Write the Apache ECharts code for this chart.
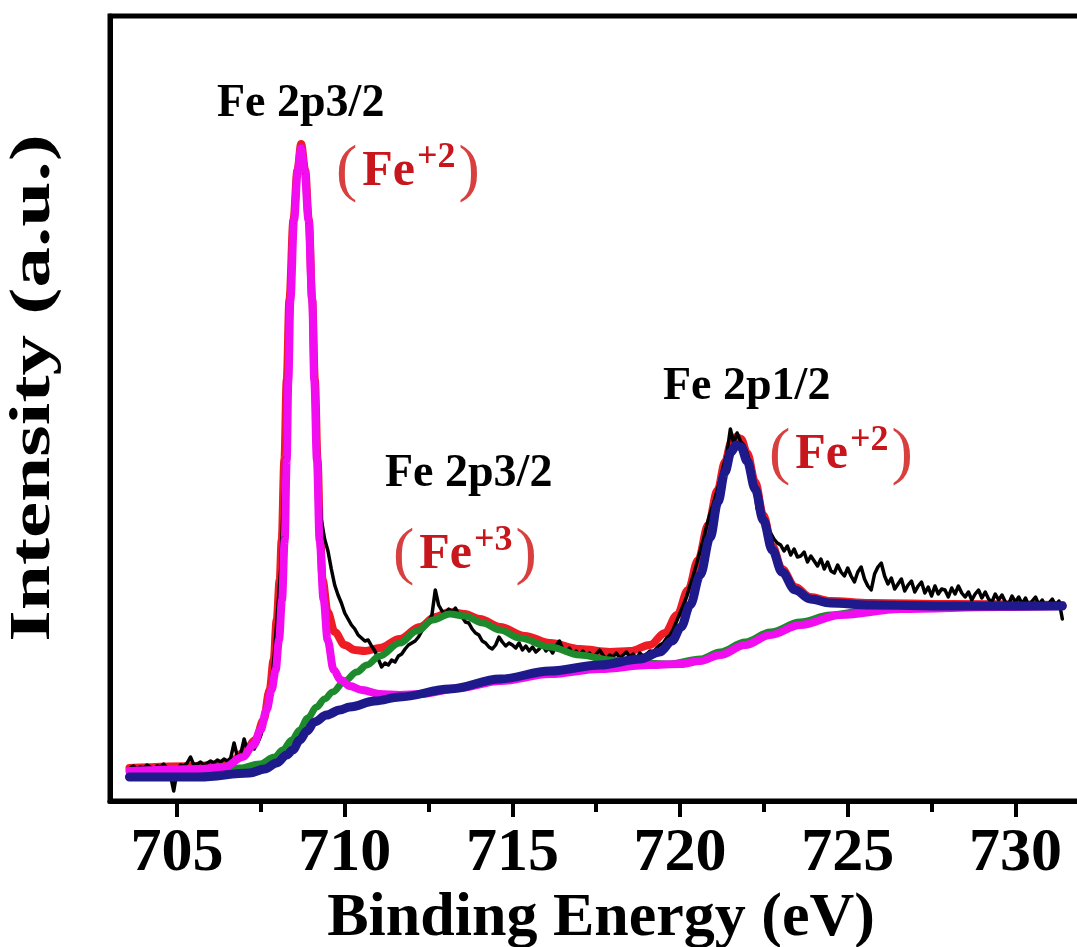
<!DOCTYPE html>
<html>
<head>
<meta charset="utf-8">
<script src="https://cdn.jsdelivr.net/npm/echarts@6/dist/echarts.min.js"></script>
<style>
  html, body { margin: 0; padding: 0; background: #ffffff; }
  #chart { width: 1077px; height: 947px; }
</style>
</head>
<body>
<div id="chart"></div>
<script>
// Fe 2p XPS spectrum with peak fitting (binding energy in eV, intensity in a.u.)

const xTicks = [705, 710, 715, 720, 725, 730];
const xMinorTicks = [707.5, 712.5, 717.5, 722.5, 727.5, 732.5];

// Measured spectrum: regular energy grid, one row per eV
const blackStart = 703.6;
const blackStep = 0.1;
const blackIntensity = [
  33, 35, 32, 34,                                   // 703.6 - 703.9
  33, 36, 34, 31, 35, 34, 37, 33, 26, 10,           // 704
  30, 36, 35, 38, 44, 36, 37, 39, 36, 38,           // 705
  40, 38, 41, 39, 42, 40, 43, 58, 44, 47,           // 706
  62, 50, 54, 52, 58, 66, 79, 96, 113, 146,         // 707
  191, 236, 331, 426, 511, 581, 636, 655, 626, 578, // 708
  511, 426, 335, 282, 262, 250, 232, 216, 206, 198, // 709
  188, 182, 176, 172, 166, 163, 160, 161, 155, 150, // 710
  142, 134, 138, 136, 141, 139, 145, 147, 152, 156, // 711
  158, 160, 164, 170, 174, 178, 186, 211, 196, 190, // 712
  188, 192, 189, 193, 186, 184, 179, 178, 172, 168, // 713
  166, 160, 158, 154, 152, 156, 164, 159, 155, 158, // 714
  156, 153, 158, 151, 155, 150, 154, 149, 152, 156, // 715
  150, 153, 148, 155, 160, 152, 149, 153, 147, 150, // 716
  146, 150, 145, 148, 143, 147, 151, 146, 142, 146, // 717
  144, 148, 143, 146, 149, 144, 147, 142, 148, 145, // 718
  147, 150, 149, 153, 156, 158, 163, 166, 172, 180, // 719
  188, 196, 205, 216, 226, 238, 250, 262, 276, 288, // 720
  298, 310, 322, 336, 348, 372, 358, 368, 360, 356, // 721
  348, 335, 322, 292, 286, 280, 274, 268, 262, 258, // 722
  256, 250, 255, 246, 252, 244, 245, 249, 239, 245, // 723
  240, 235, 242, 232, 239, 230, 228, 236, 229, 225, // 724
  233, 225, 219, 229, 234, 222, 215, 211, 227, 234, // 725
  238, 225, 217, 223, 212, 217, 222, 210, 216, 220, // 726
  209, 215, 219, 208, 214, 205, 215, 207, 212, 211, // 727
  204, 213, 207, 215, 208, 204, 209, 201, 207, 211, // 728
  203, 209, 202, 199, 207, 201, 206, 199, 197, 205, // 729
  199, 204, 197, 203, 195, 200, 204, 196, 201, 194, // 730
  198, 202, 195, 200, 182                           // 731.0 - 731.4
];

// Fitted envelope (sum of all components + background)
const envelopeFit = [
  [703.58, 33], [705.67, 35], [706.57, 38], [707.01, 49], [707.34, 61],
  [707.58, 81], [707.76, 111], [707.88, 141], [707.97, 181], [708.06, 221],
  [708.12, 261], [708.20, 341], [708.27, 421], [708.35, 501], [708.47, 581],
  [708.59, 631], [708.70, 657], [708.82, 631], [708.93, 581], [709.03, 501],
  [709.11, 421], [709.19, 341], [709.27, 261], [709.34, 221], [709.49, 189],
  [709.70, 169], [710.00, 156], [710.30, 151], [710.60, 150], [711.04, 153],
  [711.64, 162], [712.24, 174], [712.69, 184], [713.13, 189], [713.58, 187],
  [714.03, 182], [714.63, 174], [715.37, 165], [716.12, 158], [717.01, 152],
  [717.91, 149], [718.51, 150], [719.10, 156], [719.55, 168], [719.91, 186],
  [720.24, 211], [720.54, 241], [720.84, 276], [721.12, 311], [721.34, 339],
  [721.52, 358], [721.67, 364], [721.82, 362], [722.00, 348], [722.24, 319],
  [722.48, 286], [722.75, 255], [723.04, 232], [723.43, 214], [723.88, 204],
  [724.48, 200], [725.67, 198], [728.06, 197], [731.40, 196]
];

// Fe2+ 2p3/2 component on background
const fe2p32Fe2 = [
  [703.58, 30], [705.67, 32], [706.42, 34], [706.96, 44], [707.28, 56],
  [707.49, 71], [707.67, 91], [707.82, 111], [707.94, 131], [708.04, 161],
  [708.13, 201], [708.21, 261], [708.27, 341], [708.32, 421], [708.38, 501],
  [708.49, 581], [708.60, 631], [708.70, 653], [708.80, 631], [708.92, 581],
  [709.03, 501], [709.09, 421], [709.17, 341], [709.25, 261], [709.37, 201],
  [709.49, 161], [709.67, 131], [709.88, 121], [710.15, 115], [710.51, 111],
  [711.04, 107], [711.64, 106], [712.24, 107], [713.43, 113], [714.63, 120],
  [716.12, 127], [717.61, 132], [719.10, 136], [720.00, 137], [720.60, 140],
  [721.19, 146], [721.94, 156], [722.69, 166], [723.58, 176], [724.78, 186],
  [726.57, 192], [729.55, 194], [731.40, 195]
];

// Fe3+ 2p3/2 component on background
const fe2p32Fe3 = [
  [703.58, 29], [705.67, 30], [706.87, 33], [707.46, 37], [707.91, 44],
  [708.15, 51], [708.42, 61], [708.66, 71], [708.90, 83], [709.16, 94],
  [709.40, 102], [709.64, 109], [710.00, 120], [710.36, 129], [710.66, 136],
  [711.04, 145], [711.64, 158], [712.15, 170], [712.63, 181], [713.13, 187],
  [713.58, 185], [714.12, 178], [714.63, 171], [715.22, 163], [716.12, 154],
  [717.01, 146], [717.91, 141], [718.81, 138], [719.70, 137], [720.60, 142],
  [721.19, 149], [721.94, 159], [722.69, 169], [723.58, 179], [724.48, 186],
  [725.67, 191], [727.16, 193], [729.55, 194], [731.40, 195]
];

// Fe2+ 2p1/2 component on background
const fe2p12Fe2 = [
  [703.58, 24], [705.67, 24], [707.16, 28], [707.61, 32], [707.97, 38],
  [708.27, 46], [708.45, 51], [708.66, 61], [708.87, 70], [709.10, 79],
  [709.46, 86], [709.85, 91], [710.15, 94], [710.90, 100], [711.64, 104],
  [713.13, 112], [714.63, 122], [716.12, 130], [717.61, 136], [718.81, 142],
  [719.40, 149], [719.76, 160], [720.03, 174], [720.30, 196], [720.60, 226],
  [720.90, 264], [721.13, 299], [721.34, 329], [721.52, 349], [721.67, 356],
  [721.82, 354], [722.00, 340], [722.24, 312], [722.48, 281], [722.75, 251],
  [723.04, 229], [723.43, 211], [723.88, 202], [724.48, 198], [725.67, 196],
  [728.06, 195], [731.40, 195]
];

const measured = blackIntensity.map((v, i) => [+(blackStart + i * blackStep).toFixed(2), v]);

const serif = '"Liberation Serif", "Times New Roman", serif';

function curve(name, data, color, width, z, smooth) {
  return {
    name: name,
    type: 'line',
    data: data,
    z: z,
    smooth: smooth,
    smoothMonotone: 'x',
    symbol: 'none',
    showSymbol: false,
    lineStyle: { color: color, width: width, cap: 'round', join: 'round' },
    itemStyle: { color: color },
    emphasis: { disabled: true }
  };
}

function stateLabel(x, y, ion) {
  return {
    type: 'text',
    x: x,
    y: y,
    z: 100,
    style: {
      text: '{p|(}{f|Fe}{s|' + ion + '}{p|)}',
      align: 'left',
      verticalAlign: 'middle',
      rich: {
        p: { fontFamily: serif, fontSize: 64, fontWeight: 'normal', fill: '#d84040', lineHeight: 64, padding: [0, 3, 0, 3] },
        f: { fontFamily: serif, fontSize: 50, fontWeight: 'bold', fill: '#c8161d', lineHeight: 64, padding: [0, 2, 0, 2] },
        s: { fontFamily: serif, fontSize: 36, fontWeight: 'bold', fill: '#c8161d', lineHeight: 30, verticalAlign: 'top' }
      }
    }
  };
}

function peakLabel(x, y, text) {
  return {
    type: 'text',
    x: x,
    y: y,
    z: 100,
    style: {
      text: text,
      font: 'bold 46px ' + serif,
      fill: '#000000',
      align: 'left',
      verticalAlign: 'middle'
    }
  };
}

const chart = echarts.init(document.getElementById('chart'), null, { renderer: 'canvas' });

chart.setOption({
  animation: false,
  backgroundColor: '#ffffff',
  grid: {
    left: 110, top: 16, bottom: 146, right: -39,
    show: true, borderColor: '#000000', borderWidth: 5,
    backgroundColor: 'transparent',
    containLabel: false,
    outerBoundsMode: 'none'
  },
  xAxis: [
    {
      type: 'value', min: 703, max: 733,
      axisLine: { show: true, onZero: false, lineStyle: { color: '#000000', width: 5 } },
      axisTick: { show: true, customValues: xTicks, length: 16, lineStyle: { color: '#000000', width: 4 } },
      axisLabel: {
        customValues: xTicks, fontSize: 62, fontFamily: serif, fontWeight: 'bold',
        color: '#000000', margin: 22
      },
      splitLine: { show: false }
    },
    {
      type: 'value', min: 703, max: 733, position: 'bottom',
      axisLine: { show: false },
      axisTick: { show: true, customValues: xMinorTicks, length: 11, lineStyle: { color: '#000000', width: 4 } },
      axisLabel: { show: false },
      splitLine: { show: false }
    }
  ],
  yAxis: {
    type: 'value', min: 0, max: 785,
    axisLine: { show: true, onZero: false, lineStyle: { color: '#000000', width: 5 } },
    axisTick: { show: false },
    axisLabel: { show: false },
    splitLine: { show: false }
  },
  series: [
    curve('Envelope', envelopeFit, '#ee1c24', 8, 2, 0.35),
    curve('Measured', measured, '#000000', 3.5, 3, false),
    curve('Fe3+ 2p3/2', fe2p32Fe3, '#1d8b2c', 7, 4, 0.35),
    curve('Fe2+ 2p3/2', fe2p32Fe2, '#f20cf0', 8, 5, 0.35),
    curve('Fe2+ 2p1/2', fe2p12Fe2, '#1e1a8c', 9, 6, 0.35)
  ],
  graphic: [
    {
      type: 'text', x: 35, y: 388, rotation: Math.PI / 2, scaleX: 1.45, z: 100,
      style: {
        text: 'Intensity (a.u.)', font: 'bold 56px ' + serif, fill: '#000000',
        align: 'center', verticalAlign: 'middle'
      }
    },
    {
      type: 'text', x: 601, y: 919, z: 100,
      style: {
        text: 'Binding Energy (eV)', font: 'bold 62px ' + serif, fill: '#000000',
        align: 'center', verticalAlign: 'middle'
      }
    },
    peakLabel(217, 104, 'Fe 2p3/2'),
    stateLabel(333, 172, '+2'),
    peakLabel(385, 474, 'Fe 2p3/2'),
    stateLabel(390, 555, '+3'),
    peakLabel(663, 387, 'Fe 2p1/2'),
    stateLabel(766, 455, '+2')
  ]
});
</script>
</body>
</html>
